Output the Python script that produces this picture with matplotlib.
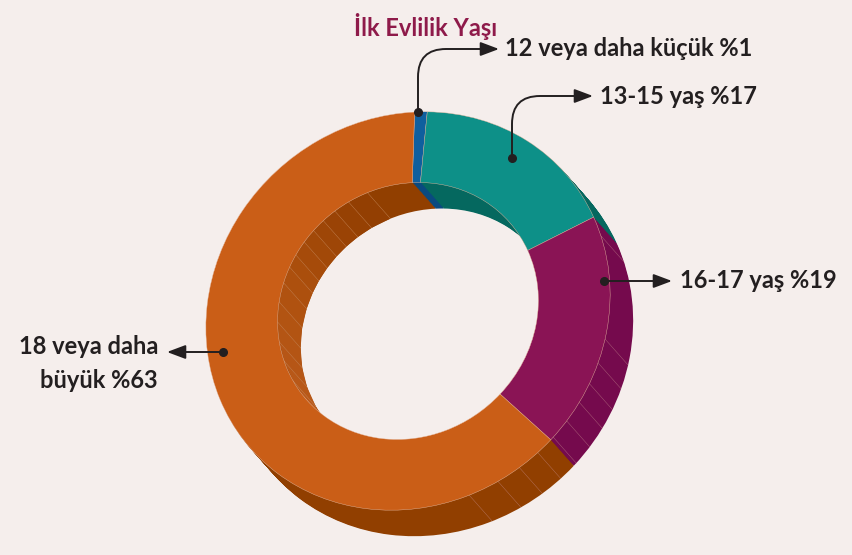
import numpy as np
import matplotlib
matplotlib.use('Agg')
import matplotlib.pyplot as plt
from matplotlib.transforms import Affine2D

# degerler
baslik = 'İlk Evlilik Yaşı'
dilimler = [1, 17, 19, 63]
etiketler = ['12 veya daha küçük %1', '13-15 yaş %17', '16-17 yaş %19', '18 veya daha\nbüyük %63']

# renkler
bg = '#f5eeec'
ust_renk = ['#0f5f9e', '#0d9088', '#8a1455', '#ca5e17']
yan_renk = ['#0a4a80', '#05685f', '#750a4d', '#913f00']
yazi = '#231f20'

# halkanin yeri (piksel)
cx, cy = 408, 311
a, b = 209, 192
derinlik = (23, 26)
ic_oran = 0.645

plt.rcParams['font.family'] = ['Lato', 'DejaVu Sans']
fig = plt.figure(figsize=(8.52, 5.55), dpi=100, facecolor=bg)
ax = fig.add_axes([0, 0, 1, 1])


def halka_tr(dx=0, dy=0):
    return Affine2D().rotate_deg(40).scale(a, b).rotate_deg(-40).translate(cx + dx, cy + dy)


def halka(renkler, dx, dy, z, kenar='none'):
    w, _ = ax.pie(dilimler, colors=renkler, startangle=-90.5, counterclock=True, radius=1,
                  wedgeprops=dict(width=1 - ic_oran, linewidth=0.3, edgecolor=kenar))
    for p in w:
        p.set_transform(halka_tr(dx, dy) + ax.transData)
        p.set_zorder(z)


def nokta(aci, r):
    # aci saat yonunde, tepeden
    t = np.radians(aci - 90 - 0.5)
    return halka_tr().transform((r * np.cos(t), r * np.sin(t)))


# yan yuzey: alta dogru kopyalar
n = 30
for i in range(n, 0, -1):
    halka(yan_renk, derinlik[0] * i / n, derinlik[1] * i / n, 1)

# ic duvardaki seritler
ic_acilar = [340, 331, 324, 317.6, 311.7, 305.4, 298.8, 292.9, 285.6, 277, 268, 259, 250, 240, 231]
dis_acilar = [160.5, 151.7, 144.7, 138.2, 132.2, 126.4, 120.2, 114.3, 108, 101, 70.7]
ic_ton = ['#933f02', '#964103', '#9a4305', '#9e4607', '#a24908', '#a64b0a', '#aa4e0c', '#ad500e',
          '#b05210', '#b25412', '#b45514', '#b65616', '#b85818', '#ba591a']

for k in range(len(ic_acilar) - 1):
    p1 = nokta(ic_acilar[k], ic_oran)
    p2 = nokta(ic_acilar[k + 1], ic_oran)
    xs = [p1[0], p2[0], p2[0] + derinlik[0], p1[0] + derinlik[0]]
    ys = [p1[1], p2[1], p2[1] + derinlik[1], p1[1] + derinlik[1]]
    ax.fill(xs, ys, color=ic_ton[k], lw=0, zorder=2)

for aci in ic_acilar:
    p = nokta(aci, ic_oran)
    ax.plot([p[0], p[0] + derinlik[0]], [p[1], p[1] + derinlik[1]], color='#d9a27c', lw=0.3, alpha=0.7, zorder=3)
for aci in dis_acilar:
    p = nokta(aci, 1)
    ax.plot([p[0], p[0] + derinlik[0]], [p[1], p[1] + derinlik[1]], color='#c98f8f', lw=0.3, alpha=0.7, zorder=3)

# ust yuzey
halka(ust_renk, 0, 0, 5, kenar='#e6b9a0')

# oklar
oklar = [((418, 112), (499, 49), 'angle,angleA=90,angleB=0,rad=28'),
         ((512, 158), (593, 96), 'angle,angleA=90,angleB=0,rad=28'),
         ((604, 281), (672, 281), 'arc3'),
         ((223, 352), (167, 352), 'arc3')]
for bas, uc, stil in oklar:
    ax.annotate('', xy=uc, xytext=bas, zorder=7,
                arrowprops=dict(arrowstyle='-|>,head_length=0.8,head_width=0.3', connectionstyle=stil,
                                color=yazi, lw=1.4, shrinkA=0, shrinkB=0, mutation_scale=14))
    ax.plot(bas[0], bas[1], 'o', color=yazi, ms=5.5, zorder=8)

# yazilar
ax.text(354, 27, baslik, color='#8e1a4a', fontsize=17, fontweight='bold', va='center', ha='left')
ax.text(505, 49, etiketler[0], color=yazi, fontsize=17, fontweight='bold', va='center', ha='left')
ax.text(600, 96, etiketler[1], color=yazi, fontsize=17, fontweight='bold', va='center', ha='left')
ax.text(680, 280, etiketler[2], color=yazi, fontsize=17, fontweight='bold', va='center', ha='left')
ax.text(158, 363.5, etiketler[3], color=yazi, fontsize=17, fontweight='bold', va='center', ha='right',
        multialignment='right', linespacing=1.6)

ax.set_aspect('auto')
ax.set_xlim(0, 852)
ax.set_ylim(555, 0)
ax.axis('off')

plt.savefig('out.png', dpi=100, facecolor=bg)
